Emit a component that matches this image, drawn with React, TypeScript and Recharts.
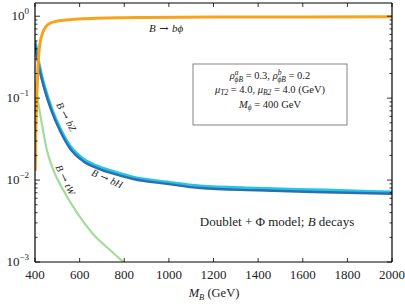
import React from "react";
import { LineChart, Line, XAxis, YAxis } from "recharts";

const M_BPHI = [401.5, 403, 405, 408, 412, 416, 422, 436, 450, 467, 490, 526, 600, 678, 800, 900, 1200, 1600, 2000];
const BR_BPHI = [0.013, 0.03, 0.055, 0.1, 0.2, 0.32, 0.46, 0.64, 0.75, 0.82, 0.86, 0.89, 0.925, 0.945, 0.96, 0.967, 0.975, 0.98, 0.982];

const M_BH = [400, 407, 422, 445, 475, 512, 557, 616, 677, 736, 840, 992, 1140, 1395, 1700, 2000];
const BR_BH = [0.46, 0.35, 0.215, 0.122, 0.069, 0.04, 0.0243, 0.017, 0.014, 0.0123, 0.0103, 0.009, 0.008, 0.0075, 0.0071, 0.0068];

const M_BZ = [400, 407, 422, 445, 475, 512, 557, 616, 677, 736, 840, 992, 1140, 1395, 1700, 2000];
const BR_BZ = [0.5, 0.37, 0.228, 0.13, 0.073, 0.0425, 0.0258, 0.018, 0.0148, 0.013, 0.0108, 0.0094, 0.0084, 0.0079, 0.0075, 0.0071];

const M_TW = [400, 410, 430, 452, 481, 526, 588, 660, 736, 800, 815];
const BR_TW = [0.16, 0.104, 0.05, 0.024, 0.0135, 0.0076, 0.004, 0.0022, 0.0014, 0.00098, 0.0009];

const X_TICKS = [400, 600, 800, 1000, 1200, 1400, 1600, 1800, 2000];
const Y_MAJOR = [0.001, 0.01, 0.1, 1];
const Y_MAJOR_EXP = ["\u22123", "\u22122", "\u22121", "0"];
const Y_MINOR_MULT = [2, 3, 4, 5, 6, 7, 8, 9];

const Y_TICKS: number[] = [];
Y_MAJOR.forEach((d) => {
  Y_TICKS.push(d);
  if (d < 1) Y_MINOR_MULT.forEach((m) => Y_TICKS.push(+(d * m).toPrecision(3)));
});

const zip = (xs: number[], ys: number[]) => xs.map((x, i) => ({ x, y: ys[i] }));

const FONT = "'Liberation Serif', 'DejaVu Serif', serif";
const ARROW_FONT = "'DejaVu Serif', serif";
const W = 405;
const H = 304;

const isMajor = (v: number) => Y_MAJOR.some((d) => Math.abs(d - v) < 1e-9);

const LeftTick = (props: any) => {
  const { x, y, payload } = props;
  const v = payload.value;
  const major = isMajor(v);
  const idx = Y_MAJOR.findIndex((d) => Math.abs(d - v) < 1e-9);
  return (
    <g>
      <line x1={x} x2={x + (major ? 5 : 2.5)} y1={y} y2={y} stroke="#000" strokeWidth={0.8} />
      {major && (
        <text x={x - 6} y={y + 4} textAnchor="end" fontFamily={FONT} fontSize={13} fill="#222">
          10
          <tspan dy={-6} fontSize={9}>{Y_MAJOR_EXP[idx]}</tspan>
        </text>
      )}
    </g>
  );
};

const RightTick = (props: any) => {
  const { x, y, payload } = props;
  const major = isMajor(payload.value);
  return <line x1={x} x2={x - (major ? 5 : 2.5)} y1={y} y2={y} stroke="#000" strokeWidth={0.8} />;
};

const BottomTick = (props: any) => {
  const { x, y, payload } = props;
  return (
    <g>
      <line x1={x} x2={x} y1={y} y2={y - 4} stroke="#000" strokeWidth={0.8} />
      <text x={x} y={y + 17} textAnchor="middle" fontFamily={FONT} fontSize={13} fill="#222">
        {payload.value}
      </text>
    </g>
  );
};

const TopTick = (props: any) => {
  const { x, y } = props;
  return <line x1={x} x2={x} y1={y} y2={y + 4} stroke="#000" strokeWidth={0.8} />;
};

const DOMAIN_Y: [number, number] = [0.001, 1.45];
const DOMAIN_X: [number, number] = [400, 2000];

const Decay = ({ to }: { to: string }) => (
  <>
    <tspan fontStyle="italic">B</tspan>
    <tspan fontFamily={ARROW_FONT}>{" \u2192 "}</tspan>
    <tspan fontStyle="italic">{to}</tspan>
  </>
);

export default function App() {
  const axisLine = { stroke: "#000", strokeWidth: 1.2 };
  return (
    <div style={{ position: "absolute", left: 0, top: 0, width: W, height: H, background: "#fff" }}>
      <LineChart width={W} height={H} margin={{ top: 2, right: 12, bottom: 41, left: 34 }}>
        <XAxis
          xAxisId="b"
          dataKey="x"
          type="number"
          domain={DOMAIN_X}
          ticks={X_TICKS}
          orientation="bottom"
          height={1}
          tickSize={0}
          tickMargin={0}
          tickLine={false}
          axisLine={axisLine}
          tick={<BottomTick />}
          allowDataOverflow
          interval={0}
        />
        <XAxis
          xAxisId="t"
          dataKey="x"
          type="number"
          domain={DOMAIN_X}
          ticks={X_TICKS}
          orientation="top"
          height={1}
          tickSize={0}
          tickMargin={0}
          tickLine={false}
          axisLine={axisLine}
          tick={<TopTick />}
          allowDataOverflow
          interval={0}
        />
        <YAxis
          yAxisId="l"
          type="number"
          scale="log"
          domain={DOMAIN_Y}
          ticks={Y_TICKS}
          orientation="left"
          width={1}
          tickSize={0}
          tickMargin={0}
          tickLine={false}
          axisLine={axisLine}
          tick={<LeftTick />}
          allowDataOverflow
          interval={0}
        />
        <YAxis
          yAxisId="r"
          type="number"
          scale="log"
          domain={DOMAIN_Y}
          ticks={Y_TICKS}
          orientation="right"
          width={1}
          tickSize={0}
          tickMargin={0}
          tickLine={false}
          axisLine={axisLine}
          tick={<RightTick />}
          allowDataOverflow
          interval={0}
        />
        <Line xAxisId="b" yAxisId="l" data={zip(M_TW, BR_TW)} dataKey="y" type="monotone" stroke="#a3dc9c" strokeWidth={2.2} dot={false} isAnimationActive={false} />
        <Line xAxisId="b" yAxisId="l" data={zip(M_BZ, BR_BZ)} dataKey="y" type="monotone" stroke="#22c6e6" strokeWidth={3.4} dot={false} isAnimationActive={false} />
        <Line xAxisId="b" yAxisId="l" data={zip(M_BH, BR_BH)} dataKey="y" type="monotone" stroke="#2f6cb0" strokeWidth={2.4} dot={false} isAnimationActive={false} />
        <Line xAxisId="b" yAxisId="l" data={zip(M_BPHI, BR_BPHI)} dataKey="y" type="monotone" stroke="#f8a31c" strokeWidth={3} dot={false} isAnimationActive={false} />
      </LineChart>
      <svg width={W} height={H} style={{ position: "absolute", left: 0, top: 0, pointerEvents: "none" }} fontFamily={FONT} fill="#222">
        <text x={166} y={32} textAnchor="middle" fontSize={11}>
          <Decay to={"b\u03d5"} />
        </text>
        <text x={66} y={120} textAnchor="middle" fontSize={10} transform="rotate(62 66 117)">
          <Decay to="bZ" />
        </text>
        <text x={107} y={182} textAnchor="middle" fontSize={10} transform="rotate(24 107 179)">
          <Decay to="bH" />
        </text>
        <text x={65} y={183} textAnchor="middle" fontSize={10} transform="rotate(64 65 180)">
          <Decay to="tW" />
        </text>
        <rect x={193} y={64} width={154} height={61} fill="#fff" stroke="#777" strokeWidth={0.9} />
        <text x={270} y={79} textAnchor="middle" fontSize={10.5}>
          <tspan fontStyle="italic">{"\u03c1"}</tspan>
          <tspan fontSize={7.5} fontStyle="italic" dy={-4}>a</tspan>
          <tspan fontSize={7.5} fontStyle="italic" dx={-4} dy={7}>{"\u03d5B"}</tspan>
          <tspan dy={-3}>{" = 0.3, "}</tspan>
          <tspan fontStyle="italic">{"\u03c1"}</tspan>
          <tspan fontSize={7.5} fontStyle="italic" dy={-4}>b</tspan>
          <tspan fontSize={7.5} fontStyle="italic" dx={-4} dy={7}>{"\u03d5B"}</tspan>
          <tspan dy={-3}>{" = 0.2"}</tspan>
        </text>
        <text x={270} y={93} textAnchor="middle" fontSize={10.5}>
          <tspan fontStyle="italic">{"\u03bc"}</tspan>
          <tspan fontSize={7.5} fontStyle="italic" dy={2}>T2</tspan>
          <tspan dy={-2}>{" = 4.0, "}</tspan>
          <tspan fontStyle="italic">{"\u03bc"}</tspan>
          <tspan fontSize={7.5} fontStyle="italic" dy={2}>B2</tspan>
          <tspan dy={-2}>{" = 4.0 (GeV)"}</tspan>
        </text>
        <text x={270} y={108} textAnchor="middle" fontSize={10.5}>
          <tspan fontStyle="italic">M</tspan>
          <tspan fontSize={7.5} fontStyle="italic" dy={2}>{"\u03d5"}</tspan>
          <tspan dy={-2}>{" = 400 GeV"}</tspan>
        </text>
        <text x={277} y={226} textAnchor="middle" fontSize={13}>
          <tspan>{"Doublet + \u03a6 model; "}</tspan>
          <tspan fontStyle="italic">B</tspan>
          <tspan>{" decays"}</tspan>
        </text>
        <text x={214} y={297} textAnchor="middle" fontSize={12.5}>
          <tspan fontStyle="italic">M</tspan>
          <tspan fontSize={8.5} fontStyle="italic" dy={2.5}>B</tspan>
          <tspan dy={-2.5}>{" (GeV)"}</tspan>
        </text>
      </svg>
    </div>
  );
}
